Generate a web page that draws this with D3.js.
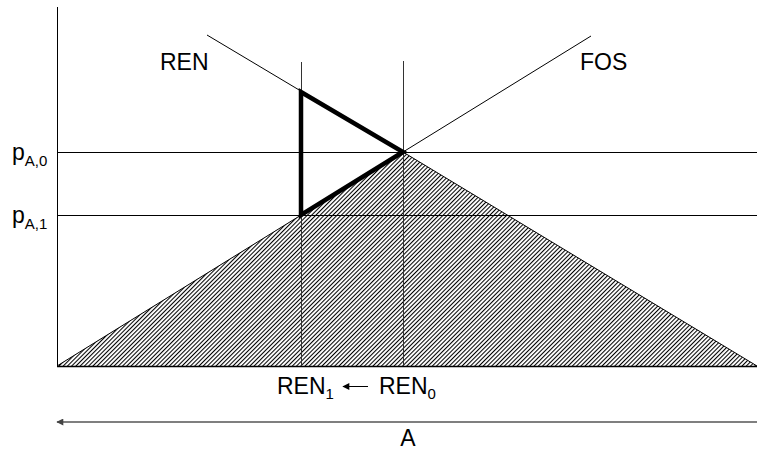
<!DOCTYPE html>
<html>
<head>
<meta charset="utf-8">
<script src="https://cdn.jsdelivr.net/npm/d3@7/dist/d3.min.js"></script>
<style>
  body { margin: 0; background: #fff; }
  text { font-family: "Liberation Sans", Arial, sans-serif; fill: #000; }
</style>
</head>
<body>
<svg id="canvas"></svg>
<script>
// quantity A runs 0..700, price runs 0..359 (diagram units)
var renLine = [[150, 331], [346, 214], [700, 0]];
var fosLine = [[0, 0], [346, 214], [534, 330]];
var shiftTriangle = [[244, 274], [346, 214], [244, 151]];
var hatchArea = [[0, 0], [346, 214], [700, 0]];
var prices = [{name: "0", value: 214}, {name: "1", value: 151}];
var quantities = [{name: "0", value: 346, top: 305}, {name: "1", value: 244, top: 304}];

var width = 758, height = 452;
var x = d3.scaleLinear().domain([0, 700]).range([57, 757]);
var y = d3.scaleLinear().domain([0, 359]).range([366, 7]);

var svg = d3.select("#canvas").attr("width", width).attr("height", height);

var defs = svg.append("defs");
defs.append("pattern")
    .attr("id", "hatch")
    .attr("patternUnits", "userSpaceOnUse")
    .attr("width", 3).attr("height", 3)
    .attr("patternTransform", "rotate(45)")
  .append("line")
    .attr("x1", 0.5).attr("y1", 0).attr("x2", 0.5).attr("y2", 3)
    .attr("stroke", "#000").attr("stroke-width", 1.1);

function arrowHead(id, color) {
  defs.append("marker")
      .attr("id", id)
      .attr("viewBox", "0 0 10 10")
      .attr("refX", 9).attr("refY", 5)
      .attr("markerWidth", 9).attr("markerHeight", 7)
      .attr("markerUnits", "userSpaceOnUse")
      .attr("orient", "auto")
    .append("path")
      .attr("d", "M0,0L10,5L0,10Z")
      .attr("fill", color);
}
arrowHead("arrGray", "#444");
arrowHead("arrBlack", "#000");

var line = d3.line().x(function(d) { return x(d[0]); }).y(function(d) { return y(d[1]); });

// hatched area under both curves
svg.append("path")
    .attr("d", line(hatchArea) + "Z")
    .attr("fill", "url(#hatch)");

// price lines
svg.selectAll(".price")
    .data(prices)
  .enter().append("line")
    .attr("class", "price")
    .attr("x1", x(0)).attr("x2", x(700))
    .attr("y1", function(d) { return y(d.value) + 0.5; })
    .attr("y2", function(d) { return y(d.value) + 0.5; })
    .attr("stroke", "#000").attr("stroke-width", 1);

// quantity lines
svg.selectAll(".qty")
    .data(quantities)
  .enter().append("line")
    .attr("class", "qty")
    .attr("x1", function(d) { return x(d.value) + 0.5; })
    .attr("x2", function(d) { return x(d.value) + 0.5; })
    .attr("y1", y(0))
    .attr("y2", function(d) { return y(d.top); })
    .attr("stroke", "#333").attr("stroke-width", 1);

// supply curves
svg.append("path").attr("d", line(renLine)).attr("fill", "none").attr("stroke", "#000").attr("stroke-width", 1);
svg.append("path").attr("d", line(fosLine)).attr("fill", "none").attr("stroke", "#000").attr("stroke-width", 1);

// axes
svg.append("line")
    .attr("x1", x(0) + 0.5).attr("x2", x(0) + 0.5)
    .attr("y1", y(0)).attr("y2", y(359))
    .attr("stroke", "#000").attr("stroke-width", 1);
svg.append("line")
    .attr("x1", x(0)).attr("x2", x(700))
    .attr("y1", y(0) + 0.5).attr("y2", y(0) + 0.5)
    .attr("stroke", "#000").attr("stroke-width", 1.5);

// bold triangle
svg.append("path")
    .attr("d", line(shiftTriangle) + "Z")
    .attr("fill", "none")
    .attr("stroke", "#000")
    .attr("stroke-width", 4.5)
    .attr("stroke-linejoin", "miter");

// curve labels
svg.append("text").attr("x", x(renLine[0][0]) - 47).attr("y", 70).style("font-size", "23px").text("REN");
svg.append("text").attr("x", x(fosLine[2][0]) - 11).attr("y", 70).style("font-size", "23px").text("FOS");

// price labels
prices.forEach(function(p) {
  var t = svg.append("text").attr("x", 12).attr("y", y(p.value) + 8).style("font-size", "23px");
  t.append("tspan").text("p");
  t.append("tspan").attr("dy", 6).style("font-size", "15px").text("A," + p.name);
});

// quantity labels
quantities.forEach(function(q) {
  var t = svg.append("text").attr("x", x(q.value) - 24).attr("y", 394).style("font-size", "23px");
  t.append("tspan").text("REN");
  t.append("tspan").attr("dy", 5).style("font-size", "15px").text(q.name);
});

// shift arrow between quantity labels
svg.append("line")
    .attr("x1", 368).attr("x2", 343)
    .attr("y1", 386.5).attr("y2", 386.5)
    .attr("stroke", "#000").attr("stroke-width", 1)
    .attr("marker-end", "url(#arrBlack)");

// A axis arrow
svg.append("line")
    .attr("x1", x(700)).attr("x2", x(0))
    .attr("y1", 422).attr("y2", 422)
    .attr("stroke", "#555").attr("stroke-width", 1.5)
    .attr("marker-end", "url(#arrGray)");
svg.append("text").attr("x", (x(0) + x(700)) / 2 + 1).attr("y", 446).attr("text-anchor", "middle").style("font-size", "23px").text("A");
</script>
</body>
</html>
